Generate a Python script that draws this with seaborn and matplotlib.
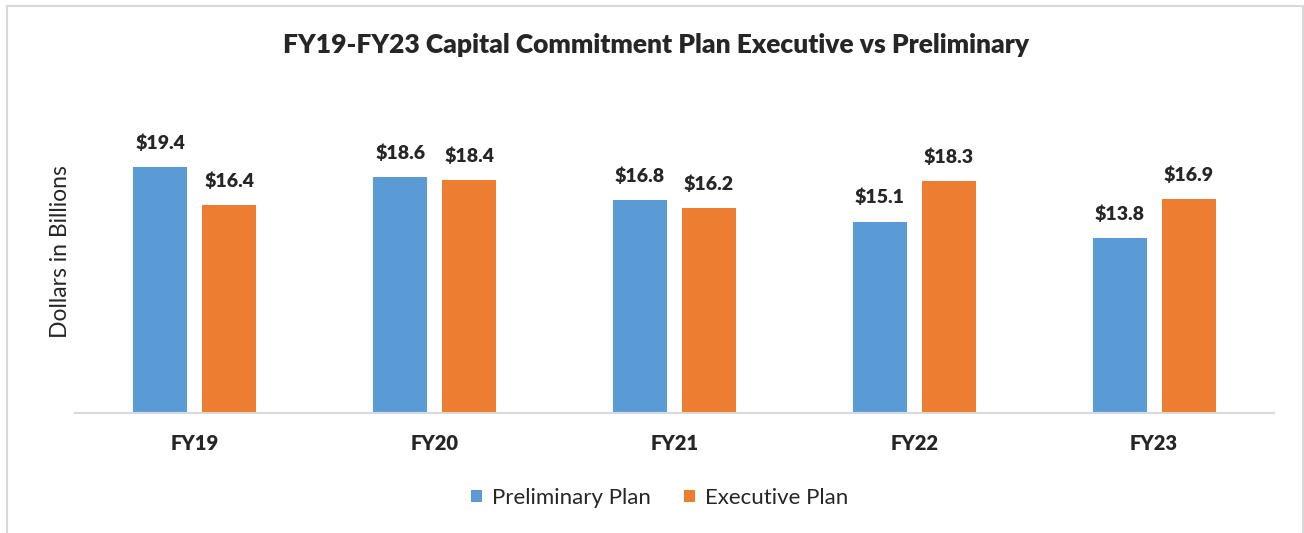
import numpy as np
import pandas as pd
import seaborn as sns
import matplotlib.pyplot as plt
from matplotlib.patches import Rectangle

# data
years = ['FY19', 'FY20', 'FY21', 'FY22', 'FY23']
preliminary = [19.4, 18.6, 16.8, 15.1, 13.8]
executive = [16.4, 18.4, 16.2, 18.3, 16.9]
series = ['Preliminary Plan', 'Executive Plan']
colors = ['#5B9BD5', '#ED7D31']

df = pd.DataFrame({
    'Year': years * 2,
    'Value': preliminary + executive,
    'Plan': [series[0]] * len(years) + [series[1]] * len(years),
})

sns.set_style('white')
plt.rcParams['font.family'] = ['Lato', 'DejaVu Sans']

fig = plt.figure(figsize=(13.04, 5.33), dpi=100)
ax = fig.add_axes([0.0575, 0.2251, 0.9195, 0.606])

sns.barplot(data=df, x='Year', y='Value', hue='Plan', palette=colors,
            saturation=1, width=0.575, gap=0.217, linewidth=0, ax=ax, legend=True)

# value labels
for cont in ax.containers:
    for bar in cont:
        h = bar.get_height()
        ax.annotate(f'${h:.1f}', (bar.get_x() + bar.get_width() / 2, h),
                    xytext=(0, 11), textcoords='offset points',
                    ha='center', va='bottom', fontsize=14, fontweight='heavy')

ax.set_xlim(-0.5, 4.5)
ax.set_ylim(0, 25.5)
ax.set_yticks([])
ax.set_xlabel('')
ax.set_ylabel('Dollars in Billions', fontsize=16.5, labelpad=3)
ax.tick_params(axis='x', length=0, pad=15)
for lab in ax.get_xticklabels():
    lab.set_fontweight('heavy')
    lab.set_fontsize(14.5)
for s in ['top', 'right', 'left']:
    ax.spines[s].set_visible(False)
ax.spines['bottom'].set_color('#D9D9D9')
ax.spines['bottom'].set_linewidth(1.5)

ax.legend(loc='center', bbox_to_anchor=(0.5057, 0.066), bbox_transform=fig.transFigure,
          ncol=2, frameon=False, fontsize=16, handlelength=0.5, handleheight=0.5,
          handletextpad=0.45, columnspacing=1.5)

fig.text(0.503, 0.915, 'FY19-FY23 Capital Commitment Plan Executive vs Preliminary',
         ha='center', va='center', fontsize=19, fontweight='heavy')

# outer chart frame
fig.patches.append(Rectangle((7 / 1304, -0.05), 1 - 8 / 1304, 1.05 - 6 / 533,
                             transform=fig.transFigure, fill=False,
                             edgecolor='#D9D9D9', linewidth=1.5))

fig.savefig('out.png', dpi=100)
